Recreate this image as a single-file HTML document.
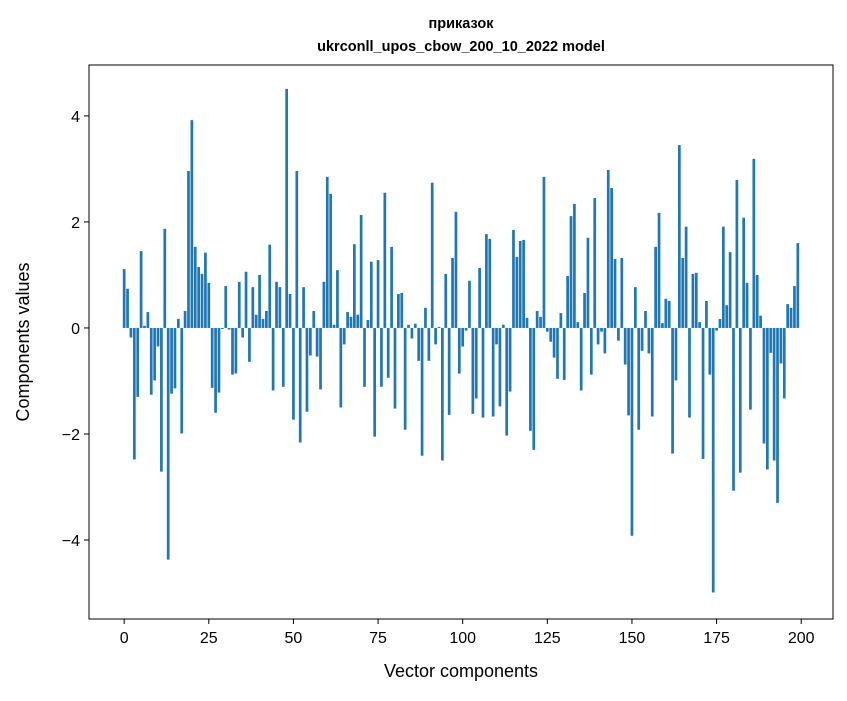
<!DOCTYPE html>
<html><head><meta charset="utf-8"><style>
body{margin:0;background:#fff;font-family:"Liberation Sans","DejaVu Sans",sans-serif}
</style></head><body>
<svg width="847" height="696" xmlns="http://www.w3.org/2000/svg" font-family="Liberation Sans, DejaVu Sans, sans-serif">
<rect width="847" height="696" fill="#fff"/>
<g id="bars"></g>
<g id="axes"></g>
<rect x="89" y="65" width="744" height="554" fill="none" stroke="#000" stroke-width="1"/>
<text x="461" y="28" text-anchor="middle" font-size="14.5" font-weight="bold">приказок</text>
<text x="461" y="51" text-anchor="middle" font-size="14.5" font-weight="bold">ukrconll_upos_cbow_200_10_2022 model</text>
<text x="461" y="677" text-anchor="middle" font-size="18">Vector components</text>
<text x="29" y="342" text-anchor="middle" font-size="18" transform="rotate(-90 29 342)">Components values</text>
</svg>
<script>
const values=[1.11,0.74,-0.18,-2.48,-1.30,1.45,0.04,0.30,-1.26,-0.99,
-0.35,-2.71,1.87,-4.37,-1.24,-1.14,0.17,-1.99,0.32,2.96,
3.92,1.53,1.15,1.02,1.42,0.85,-1.13,-1.60,-1.22,-0.02,
0.79,-0.03,-0.88,-0.86,0.87,-0.18,1.06,-0.64,0.77,0.25,
1.00,0.17,0.32,1.57,-1.18,0.87,0.77,-1.11,4.51,0.64,
-1.73,2.96,-2.16,0.77,-1.58,-0.52,0.32,-0.54,-1.16,0.87,
2.85,2.53,0.06,1.09,-1.50,-0.31,0.30,0.21,1.58,0.25,
2.13,-1.11,0.15,1.25,-2.05,1.28,-1.11,2.55,-0.94,1.53,
-1.52,0.64,0.66,-1.92,0.06,-0.20,0.08,-0.62,-2.41,0.38,
-0.62,2.74,-0.31,0.02,-2.50,1.02,-1.64,1.32,2.19,-0.86,
-0.35,-0.05,0.89,-1.62,-1.33,1.13,-1.69,1.77,1.68,-1.67,
-0.31,-1.48,0.06,-2.03,-1.20,1.85,1.34,1.64,1.66,0.19,
-1.94,-2.30,0.32,0.21,2.85,-0.07,-0.26,-0.56,-0.96,0.28,
-0.98,0.98,2.11,2.34,0.11,-1.18,0.66,1.70,-0.88,2.45,
-0.31,-0.07,-0.48,2.98,2.64,1.30,-0.24,1.32,-0.69,-1.65,
-3.92,0.77,-1.92,-0.43,0.32,-0.48,-1.67,1.53,2.17,0.09,
0.55,0.51,-2.37,-0.99,3.45,1.32,1.91,-1.69,1.02,1.04,
0.11,-2.47,0.51,-0.88,-4.99,-0.05,0.17,1.91,0.43,1.43,
-3.07,2.79,-2.73,2.08,0.85,-1.54,3.19,1.00,0.23,-2.18,
-2.67,-0.47,-2.50,-3.30,-0.67,-1.33,0.45,0.38,0.79,1.60];
const xTicks=[0,25,50,75,100,125,150,175,200];
const yTicks=[-4,-2,0,2,4];
const NS='http://www.w3.org/2000/svg';
const xMin=-10.39,xMax=209.39,yMin=-5.49,yMax=4.96;
const L=89,R=833,T=65,B=619;
function sx(v){return L+(v-xMin)/(xMax-xMin)*(R-L);}
function sy(v){return B-(v-yMin)/(yMax-yMin)*(B-T);}
const bars=document.getElementById('bars');
values.forEach((v,i)=>{
  const r=document.createElementNS(NS,'rect');
  const x0=sx(i-0.4),x1=sx(i+0.4);
  const y0=sy(Math.max(v,0)),y1=sy(Math.min(v,0));
  r.setAttribute('x',x0);r.setAttribute('width',x1-x0);
  r.setAttribute('y',y0);r.setAttribute('height',Math.max(y1-y0,0.3));
  r.setAttribute('fill','#1f77b4');
  
  
  bars.appendChild(r);
});
const axes=document.getElementById('axes');
xTicks.forEach(t=>{
  const x=sx(t);
  const l=document.createElementNS(NS,'line');
  l.setAttribute('x1',x);l.setAttribute('x2',x);l.setAttribute('y1',B);l.setAttribute('y2',B+5);
  l.setAttribute('stroke','#000');
  
  
  axes.appendChild(l);
  const tx=document.createElementNS(NS,'text');
  tx.setAttribute('x',x);tx.setAttribute('y',B+24);tx.setAttribute('text-anchor','middle');tx.setAttribute('font-size','16');
  tx.textContent=t;
  
  
  axes.appendChild(tx);
});
yTicks.forEach(t=>{
  const y=sy(t);
  const l=document.createElementNS(NS,'line');
  l.setAttribute('x1',L-5);l.setAttribute('x2',L);l.setAttribute('y1',y);l.setAttribute('y2',y);
  l.setAttribute('stroke','#000');
  
  
  axes.appendChild(l);
  const tx=document.createElementNS(NS,'text');
  tx.setAttribute('x',L-9);tx.setAttribute('y',y+6);tx.setAttribute('text-anchor','end');tx.setAttribute('font-size','16');
  tx.textContent=t<0?'\u2212'+Math.abs(t):String(t);
  
  
  axes.appendChild(tx);
});
</script>
</body></html>
